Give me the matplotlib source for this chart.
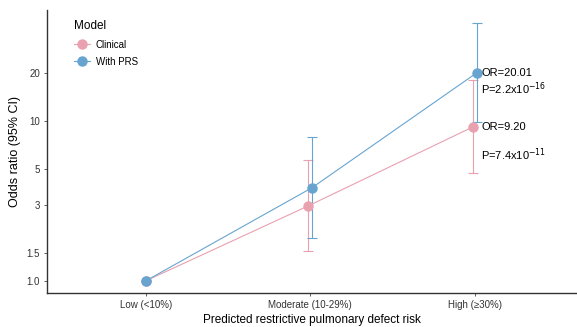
import matplotlib.pyplot as plt
import numpy as np

plt.rcParams['font.family'] = ['Liberation Sans', 'DejaVu Sans']

# Data
categories = ["Low (<10%)", "Moderate (10-29%)", "High (\u226530%)"]
clinical_or = [1.0, 2.95, 9.20]
clinical_lo = [1.0, 1.54, 4.74]
clinical_hi = [1.0, 5.71, 18.1]
prs_or = [1.0, 3.83, 20.01]
prs_lo = [1.0, 1.86, 9.87]
prs_hi = [1.0, 7.96, 41.1]

y_ticks = [1.0, 1.5, 3, 5, 10, 20]
y_tick_labels = ["1.0", "1.5", "3", "5", "10", "20"]

pink = "#E9A1B0"
blue = "#67A5D0"

fig = plt.figure(figsize=(5.77, 3.27), dpi=100)
ax = fig.add_axes([0.0815, 0.104, 0.918, 0.865])

x = np.arange(1, len(categories) + 1)
# small horizontal dodge between the two models (none at the reference level)
dodge = np.array([0.0, 0.011, 0.011])

for vals, lo, hi, col, lab, off in [
    (clinical_or, clinical_lo, clinical_hi, pink, "Clinical", -dodge),
    (prs_or, prs_lo, prs_hi, blue, "With PRS", dodge),
]:
    vals = np.array(vals)
    err = np.array([vals - np.array(lo), np.array(hi) - vals])
    ax.errorbar(x + off, vals, yerr=err, fmt="none", ecolor=col,
                elinewidth=0.8, capsize=3.5, capthick=0.8, zorder=2)
    ax.plot(x + off, vals, color=col, lw=0.8, marker="o", markersize=6.5,
            label=lab, zorder=3)

ax.set_yscale("log")
ax.set_ylim(0.84, 49.5)
ax.set_xlim(0.4, 3.62)
ax.set_yticks(y_ticks)
ax.set_yticklabels(y_tick_labels)
ax.minorticks_off()
ax.set_xticks(x)
ax.set_xticklabels(categories)
ax.tick_params(axis="both", labelsize=7, colors="#444444", length=2.5,
               width=0.6, labelcolor="#333333", pad=2.5)

for s in ["top", "right"]:
    ax.spines[s].set_visible(False)
for s in ["left", "bottom"]:
    ax.spines[s].set_color("#333333")
    ax.spines[s].set_linewidth(1.0)

ax.set_ylabel("Odds ratio (95% CI)", fontsize=9, labelpad=4)
ax.set_xlabel("Predicted restrictive pulmonary defect risk", fontsize=8.5,
              labelpad=3)

ax.text(3.04, prs_or[2], "OR=20.01", fontsize=8, va="center", ha="left")
ax.text(3.04, 15.9, "P=2.2x10$^{-16}$", fontsize=8, va="center", ha="left")
ax.text(3.04, clinical_or[2], "OR=9.20", fontsize=8, va="center", ha="left")
ax.text(3.04, 6.2, "P=7.4x10$^{-11}$", fontsize=8, va="center", ha="left")

leg = ax.legend(title="Model", loc="upper left", bbox_to_anchor=(0.035, 0.995),
                frameon=False, fontsize=7, title_fontsize=8.5,
                handlelength=1.6, labelspacing=0.75, handletextpad=0.6)
leg._legend_box.align = "left"

fig.savefig("out.png", dpi=100)
